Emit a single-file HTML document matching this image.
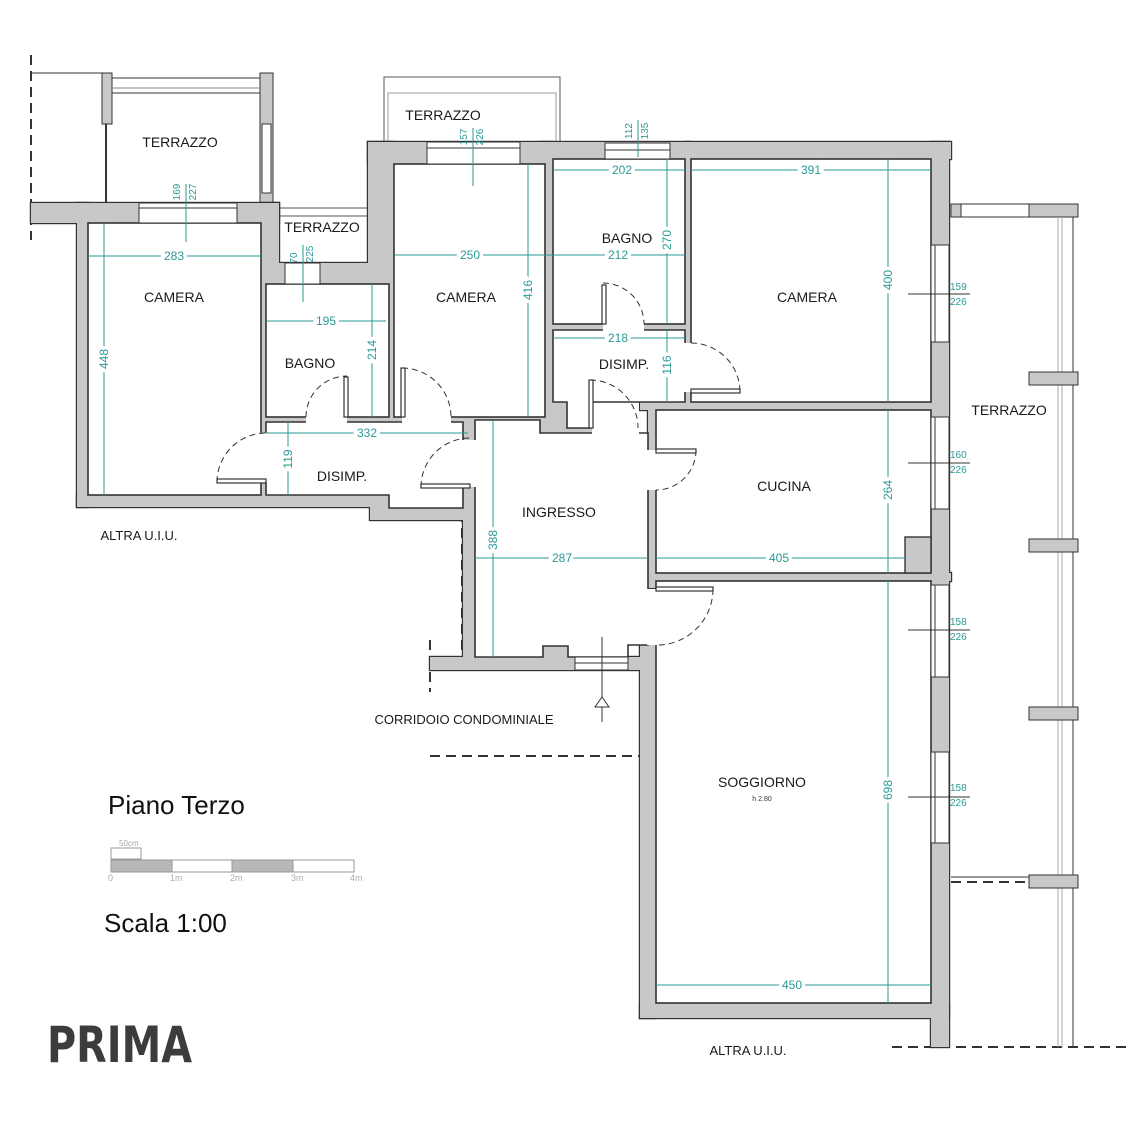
<!DOCTYPE html>
<html><head><meta charset="utf-8"><style>
html,body{margin:0;padding:0;background:#fff;}
svg{display:block;}
text{font-family:"Liberation Sans",sans-serif;}
.lbl{font-size:14px;fill:#1a1a1a;text-anchor:middle;}
.dim{font-size:12px;fill:#2a9a96;text-anchor:middle;paint-order:stroke;stroke:#fff;stroke-width:7px;}
.dims{font-size:10px;fill:#2a9a96;text-anchor:middle;}
.dl{stroke:#2a9a96;stroke-width:1;fill:none;}
.g{fill:#c8c8c8;}
.door{fill:none;stroke:#333;stroke-width:1;stroke-dasharray:6 4;}
.leaf{stroke:#333;stroke-width:1.2;fill:none;}
.dash{stroke:#333;stroke-width:2;stroke-dasharray:10 6;fill:none;}
</style></head><body>
<svg width="1140" height="1140" viewBox="0 0 1140 1140" xmlns="http://www.w3.org/2000/svg">
<rect width="1140" height="1140" fill="#fff"/>

<path class="dash" d="M31,55 V240"/>
<line x1="31" y1="73" x2="102" y2="73" stroke="#333" stroke-width="1"/>
<path class="dash" d="M31,223 H77 V507 H377 V520 H462 V657 H430"/>
<path class="dash" d="M430,640 V692"/>
<path class="dash" d="M430,756 H640"/>
<path class="dash" d="M640,1018 H931 V1047"/>
<path class="dash" d="M892,1047 H1130"/>
<path class="dash" d="M951,882 H1029"/>
<line x1="951" y1="877" x2="1029" y2="877" stroke="#333" stroke-width="1"/>

<rect x="102" y="73" width="10" height="51" class="g" stroke="#333"/>
<line x1="106" y1="124" x2="106" y2="203" stroke="#333" stroke-width="2"/>
<rect x="260" y="73" width="13" height="130" class="g" stroke="#333"/>
<rect x="262" y="124" width="9" height="69" fill="#fff" stroke="#333"/>
<rect x="112" y="78" width="148" height="15" fill="#fff" stroke="#333"/>
<line x1="112" y1="88" x2="260" y2="88" stroke="#888" stroke-width="1"/>
<rect x="384" y="77" width="176" height="68" fill="#fff" stroke="#555"/>
<rect x="388" y="93" width="168" height="52" fill="#fff" stroke="#999"/>
<rect x="279" y="208" width="89" height="8" fill="#fff" stroke="#555"/>

<rect x="951" y="204" width="10" height="13" class="g" stroke="#333"/>
<rect x="961" y="204" width="68" height="13" fill="#fff" stroke="#333"/>
<rect x="1029" y="204" width="49" height="13" class="g" stroke="#333"/>
<line x1="1058" y1="217" x2="1058" y2="1047" stroke="#aaa"/>
<line x1="1062" y1="217" x2="1062" y2="1047" stroke="#aaa"/>
<line x1="1073" y1="217" x2="1073" y2="1047" stroke="#333"/>
<rect x="1029" y="372" width="49" height="13" class="g" stroke="#333"/>
<rect x="1029" y="539" width="49" height="13" class="g" stroke="#333"/>
<rect x="1029" y="707" width="49" height="13" class="g" stroke="#333"/>
<rect x="1029" y="875" width="49" height="13" class="g" stroke="#333"/>

<g stroke="#333" stroke-width="2.4" class="g">
<rect x="31" y="203" width="248" height="20"/>
<rect x="77" y="203" width="11" height="304"/>
<rect x="77" y="495" width="312" height="12"/>
<rect x="370" y="495" width="105" height="25"/>
<rect x="261" y="203" width="18" height="80"/>
<rect x="261" y="223" width="5" height="272"/>
<rect x="261" y="263" width="133" height="21"/>
<rect x="368" y="142" width="26" height="142"/>
<rect x="389" y="284" width="5" height="133"/>
<rect x="368" y="142" width="583" height="17"/>
<rect x="368" y="159" width="185" height="5"/>
<rect x="540" y="142" width="13" height="291"/>
<rect x="553" y="199" width="38" height="25"/>
<rect x="261" y="417" width="292" height="5"/>
<rect x="540" y="402" width="52" height="31"/>
<rect x="463" y="417" width="12" height="240"/>
<rect x="685" y="142" width="6" height="260"/>
<rect x="553" y="324" width="132" height="6"/>
<rect x="640" y="402" width="291" height="8"/>
<rect x="648" y="402" width="8" height="186"/>
<rect x="648" y="573" width="303" height="8"/>
<rect x="931" y="142" width="18" height="905"/>
<rect x="640" y="645" width="16" height="373"/>
<rect x="640" y="1003" width="309" height="15"/>
<rect x="430" y="657" width="210" height="13"/>
<rect x="543" y="646" width="25" height="11"/>
</g>
<g class="g">
<rect x="31" y="203" width="248" height="20"/>
<rect x="77" y="203" width="11" height="304"/>
<rect x="77" y="495" width="312" height="12"/>
<rect x="370" y="495" width="105" height="25"/>
<rect x="261" y="203" width="18" height="80"/>
<rect x="261" y="223" width="5" height="272"/>
<rect x="261" y="263" width="133" height="21"/>
<rect x="368" y="142" width="26" height="142"/>
<rect x="389" y="284" width="5" height="133"/>
<rect x="368" y="142" width="583" height="17"/>
<rect x="368" y="159" width="185" height="5"/>
<rect x="540" y="142" width="13" height="291"/>
<rect x="553" y="199" width="38" height="25"/>
<rect x="261" y="417" width="292" height="5"/>
<rect x="540" y="402" width="52" height="31"/>
<rect x="463" y="417" width="12" height="240"/>
<rect x="685" y="142" width="6" height="260"/>
<rect x="553" y="324" width="132" height="6"/>
<rect x="640" y="402" width="291" height="8"/>
<rect x="648" y="402" width="8" height="186"/>
<rect x="648" y="573" width="303" height="8"/>
<rect x="931" y="142" width="18" height="905"/>
<rect x="640" y="645" width="16" height="373"/>
<rect x="640" y="1003" width="309" height="15"/>
<rect x="430" y="657" width="210" height="13"/>
<rect x="543" y="646" width="25" height="11"/>
</g>

<g fill="#fff" stroke="#333" stroke-width="1.6">
<rect x="88" y="223" width="173" height="272"/>
<rect x="266" y="284" width="123" height="133"/>
<rect x="394" y="164" width="151" height="253"/>
<path d="M266,422 H463 V508 H389 V495 H266 Z"/>
<rect x="553" y="159" width="132" height="165"/>
<path d="M553,330 H685 V402 H592 V428 H567 V402 H553 Z"/>
<rect x="691" y="159" width="240" height="243"/>
<rect x="656" y="410" width="275" height="163"/>
<rect x="656" y="581" width="275" height="422"/>
<path d="M475,420 H540 V433 H648 V645 H628 V657 H568 V646 H543 V657 H475 Z"/>
</g>
<rect x="592" y="403" width="47" height="31" fill="#fff"/>
<rect x="905" y="537" width="26" height="36" class="g" stroke="#333" stroke-width="1.4"/>

<g fill="#fff" stroke="#333" stroke-width="1">
<rect x="139" y="203" width="98" height="20"/>
<rect x="285" y="263" width="35" height="21"/>
<rect x="427" y="142" width="93" height="22"/>
<rect x="605" y="143" width="65" height="16"/>
<rect x="931" y="245" width="18" height="97"/>
<rect x="931" y="417" width="18" height="92"/>
<rect x="931" y="585" width="18" height="92"/>
<rect x="931" y="752" width="18" height="91"/>
<rect x="575" y="657" width="53" height="13"/>
</g>
<g stroke="#333" stroke-width="1">
<line x1="139" y1="208" x2="237" y2="208"/>
<line x1="427" y1="148" x2="520" y2="148"/>
<line x1="605" y1="150" x2="670" y2="150"/>
<line x1="575" y1="663" x2="628" y2="663"/>
<line x1="935" y1="245" x2="935" y2="342"/>
<line x1="935" y1="417" x2="935" y2="509"/>
<line x1="935" y1="585" x2="935" y2="677"/>
<line x1="935" y1="752" x2="935" y2="843"/>
</g>

<g fill="#fff">
<rect x="306" y="416" width="41" height="7"/>
<rect x="402" y="416" width="49" height="7"/>
<rect x="260" y="433" width="7" height="49"/>
<rect x="462" y="440" width="14" height="47"/>
<rect x="603" y="323" width="41" height="8"/>
<rect x="684" y="343" width="8" height="49"/>
<rect x="647" y="450" width="10" height="40"/>
<rect x="647" y="589" width="10" height="56"/>
</g>
<g class="leaf">
<rect x="344" y="377" width="4" height="40" fill="#fff"/>
<rect x="401" y="368" width="4" height="49" fill="#fff"/>
<rect x="217" y="479" width="49" height="4" fill="#fff"/>
<rect x="421" y="484" width="49" height="4" fill="#fff"/>
<rect x="602" y="285" width="4" height="39" fill="#fff"/>
<rect x="691" y="389" width="49" height="4" fill="#fff"/>
<rect x="589" y="380" width="4" height="48" fill="#fff"/>
<rect x="656" y="449" width="40" height="4" fill="#fff"/>
<rect x="656" y="587" width="57" height="4" fill="#fff"/>
</g>
<g class="door">
<path d="M306,417 A41,41 0 0 1 347,376"/>
<path d="M402,368 A49,49 0 0 1 451,417"/>
<path d="M217,482 A49,49 0 0 1 266,433"/>
<path d="M421,487 A49,49 0 0 1 470,438"/>
<path d="M603,283 A41,41 0 0 1 644,324"/>
<path d="M691,343 A49,49 0 0 1 740,392"/>
<path d="M590,380 A48,48 0 0 1 638,428"/>
<path d="M696,450 A40,40 0 0 1 656,490"/>
<path d="M713,589 A56,56 0 0 1 656,645"/>
</g>

<line x1="602" y1="637" x2="602" y2="722" stroke="#333"/>
<path d="M595,707 L602,697 L609,707 Z" fill="#fff" stroke="#333"/>

<g class="dl">
<line x1="88" y1="256" x2="261" y2="256"/>
<line x1="104" y1="223" x2="104" y2="495"/>
<line x1="186" y1="184" x2="186" y2="242"/>
<line x1="303" y1="245" x2="303" y2="302"/>
<line x1="266" y1="321" x2="386" y2="321"/>
<line x1="372" y1="284" x2="372" y2="417"/>
<line x1="266" y1="433" x2="468" y2="433"/>
<line x1="288" y1="422" x2="288" y2="495"/>
<line x1="394" y1="255" x2="545" y2="255"/>
<line x1="528" y1="164" x2="528" y2="417"/>
<line x1="473" y1="128" x2="473" y2="186"/>
<line x1="638" y1="120" x2="638" y2="157"/>
<line x1="553" y1="170" x2="685" y2="170"/>
<line x1="667" y1="159" x2="667" y2="324"/>
<line x1="540" y1="255" x2="685" y2="255"/>
<line x1="553" y1="338" x2="685" y2="338"/>
<line x1="667" y1="330" x2="667" y2="402"/>
<line x1="691" y1="170" x2="931" y2="170"/>
<line x1="888" y1="159" x2="888" y2="402"/>
<line x1="888" y1="410" x2="888" y2="573"/>
<line x1="656" y1="558" x2="905" y2="558"/>
<line x1="475" y1="558" x2="648" y2="558"/>
<line x1="493" y1="420" x2="493" y2="657"/>
<line x1="888" y1="581" x2="888" y2="1003"/>
<line x1="656" y1="985" x2="931" y2="985"/>
</g>
<g stroke="#333" stroke-width="1">
<line x1="908" y1="294" x2="970" y2="294"/>
<line x1="908" y1="463" x2="970" y2="463"/>
<line x1="908" y1="630" x2="970" y2="630"/>
<line x1="908" y1="797" x2="970" y2="797"/>
</g>

<text class="dim" x="174" y="260">283</text>
<text class="dim" transform="translate(108,359) rotate(-90)">448</text>
<text class="dims" transform="translate(180,192) rotate(-90)">169</text>
<text class="dims" transform="translate(196,192) rotate(-90)">227</text>
<text class="dims" transform="translate(297,258) rotate(-90)">70</text>
<text class="dims" transform="translate(313,254) rotate(-90)">225</text>
<text class="dim" x="326" y="325">195</text>
<text class="dim" transform="translate(376,350) rotate(-90)">214</text>
<text class="dim" x="367" y="437">332</text>
<text class="dim" transform="translate(292,459) rotate(-90)">119</text>
<text class="dim" x="470" y="259">250</text>
<text class="dim" transform="translate(532,290) rotate(-90)">416</text>
<text class="dims" transform="translate(467,137) rotate(-90)">157</text>
<text class="dims" transform="translate(483,137) rotate(-90)">226</text>
<text class="dims" transform="translate(632,131) rotate(-90)">112</text>
<text class="dims" transform="translate(648,131) rotate(-90)">135</text>
<text class="dim" x="622" y="174">202</text>
<text class="dim" transform="translate(671,240) rotate(-90)">270</text>
<text class="dim" x="618" y="259">212</text>
<text class="dim" x="618" y="342">218</text>
<text class="dim" transform="translate(671,365) rotate(-90)">116</text>
<text class="dim" x="811" y="174">391</text>
<text class="dim" transform="translate(892,280) rotate(-90)">400</text>
<text class="dim" transform="translate(892,490) rotate(-90)">264</text>
<text class="dim" x="779" y="562">405</text>
<text class="dim" x="562" y="562">287</text>
<text class="dim" transform="translate(497,540) rotate(-90)">388</text>
<text class="dim" transform="translate(892,790) rotate(-90)">698</text>
<text class="dim" x="792" y="989">450</text>
<g class="dims" style="text-anchor:start;font-size:10px">
<text x="950" y="290">159</text><text x="950" y="305">226</text>
<text x="950" y="458">160</text><text x="950" y="473">226</text>
<text x="950" y="625">158</text><text x="950" y="640">226</text>
<text x="950" y="791">158</text><text x="950" y="806">226</text>
</g>

<text class="lbl" x="180" y="147">TERRAZZO</text>
<text class="lbl" x="322" y="232">TERRAZZO</text>
<text class="lbl" x="443" y="120">TERRAZZO</text>
<text class="lbl" x="174" y="302">CAMERA</text>
<text class="lbl" x="310" y="368">BAGNO</text>
<text class="lbl" x="466" y="302">CAMERA</text>
<text class="lbl" x="627" y="243">BAGNO</text>
<text class="lbl" x="807" y="302">CAMERA</text>
<text class="lbl" x="342" y="481">DISIMP.</text>
<text class="lbl" x="624" y="369">DISIMP.</text>
<text class="lbl" x="559" y="517">INGRESSO</text>
<text class="lbl" x="784" y="491">CUCINA</text>
<text class="lbl" x="1009" y="415">TERRAZZO</text>
<text class="lbl" x="762" y="787">SOGGIORNO</text>
<text x="762" y="801" style="font-size:7px;fill:#333;text-anchor:middle">h 2.80</text>
<text class="lbl" x="139" y="540" style="font-size:13px">ALTRA U.I.U.</text>
<text class="lbl" x="464" y="724" style="font-size:13px">CORRIDOIO CONDOMINIALE</text>
<text class="lbl" x="748" y="1055" style="font-size:13px">ALTRA U.I.U.</text>

<text x="108" y="814" style="font-size:26px;fill:#111">Piano Terzo</text>
<rect x="111" y="848" width="30" height="11" fill="#fff" stroke="#999"/>
<text x="119" y="846" style="font-size:8px;fill:#aaa">50cm</text>
<rect x="111" y="860" width="243" height="12" fill="#fff" stroke="#999"/>
<rect x="111" y="860" width="61" height="12" fill="#b8b8b8" stroke="#999"/>
<rect x="232" y="860" width="61" height="12" fill="#b8b8b8" stroke="#999"/>
<g style="font-size:9px;fill:#aaa">
<text x="108" y="881">0</text><text x="170" y="881">1m</text><text x="230" y="881">2m</text><text x="291" y="881">3m</text><text x="350" y="881">4m</text>
</g>
<text x="104" y="932" style="font-size:26px;fill:#111">Scala 1:00</text>
<text x="47" y="1062" textLength="145" lengthAdjust="spacingAndGlyphs" style="font-size:50px;font-weight:bold;fill:#3c3c3c;font-family:'DejaVu Sans','Liberation Sans',sans-serif">PRIMA</text>
</svg>
</body></html>
